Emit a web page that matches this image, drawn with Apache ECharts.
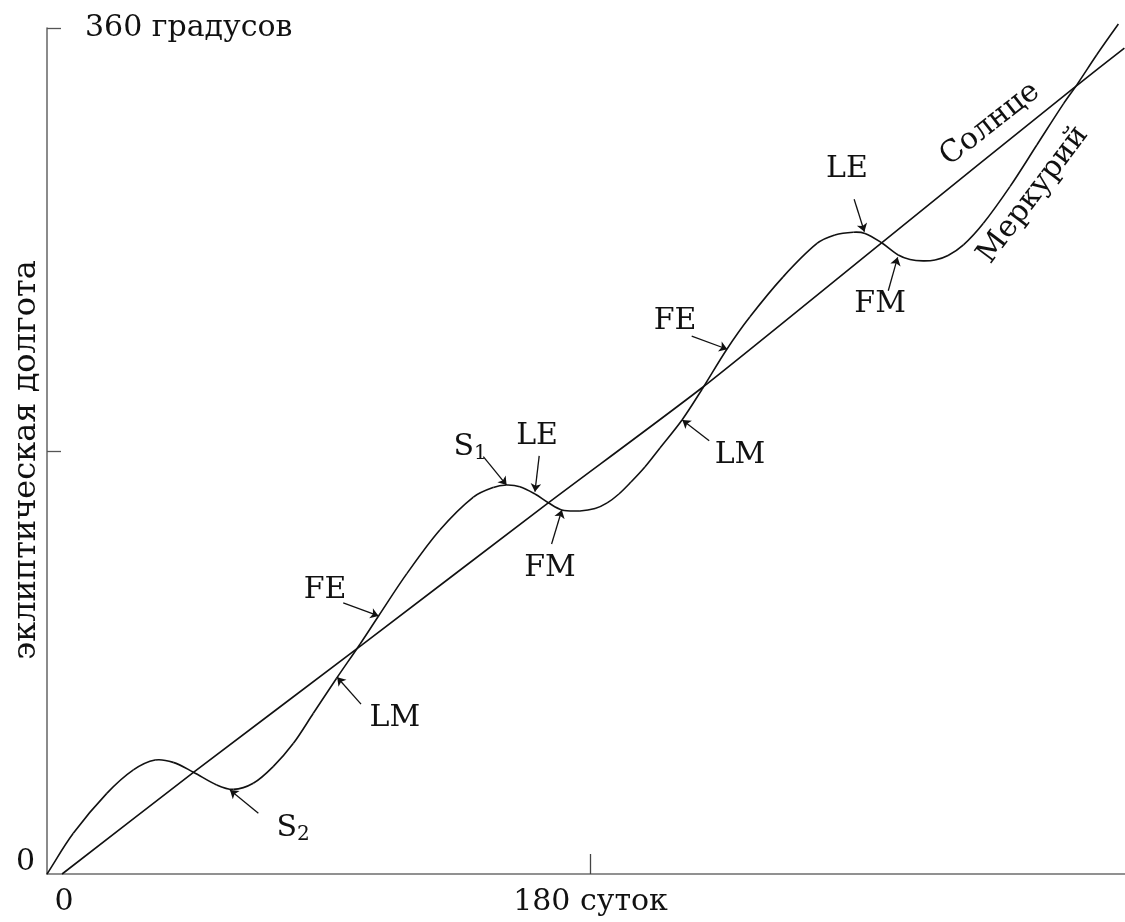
<!DOCTYPE html>
<html>
<head>
<meta charset="utf-8">
<script src="https://cdn.jsdelivr.net/npm/echarts@6/dist/echarts.min.js"></script>
<style>
  html, body { margin: 0; padding: 0; background: #fff; }
  #chart { width: 1125px; height: 922px; }
</style>
</head>
<body>
<div id="chart"></div>
<script>
// x: days, y: ecliptic longitude in degrees
const sunPath = [
  [5, 0], [48.5, 43.2], [104.2, 97.4], [166.0, 157.9], [216.7, 206.7],
  [276.3, 268.5], [340.8, 335.3], [356.8, 351.4]
];
const mercuryPath = [
  [0, 0], [8.7, 17.3], [19.8, 34.3], [28.6, 44.3], [35.8, 48.5], [41.8, 47.5],
  [48.5, 43.3], [56.2, 37.9], [61.7, 36.0], [68.3, 38.6], [74.9, 45.7], [81.6, 55.6],
  [88.2, 68.4], [95.9, 83.3], [103.7, 97.9], [109.8, 109.8], [119.1, 127.7],
  [130.1, 146.4], [141.2, 160.4], [147.8, 164.5], [152.2, 165.5], [156.6, 164.8],
  [161.6, 161.7], [166.0, 158.0], [170.5, 154.9], [176.5, 154.5], [181.5, 155.5],
  [185.5, 157.9], [189.4, 161.7], [193.4, 166.8], [198.0, 173.2], [203.0, 181.3],
  [210.3, 193.2], [217.0, 206.4], [225.2, 223.4], [232.8, 237.1], [243.7, 254.0],
  [255.0, 268.3], [260.9, 271.9], [267.0, 273.1], [270.9, 272.6], [276.4, 268.6],
  [281.9, 263.4], [285.8, 261.5], [290.1, 260.9], [294.1, 261.3], [298.4, 263.2],
  [303.5, 267.7], [310.1, 276.9], [318.9, 292.5], [327.8, 310.2], [336.6, 327.7],
  [341.0, 335.7], [347.6, 348.5], [354.8, 361.7]
];

const xTickValues = [0, 180];
const xTickLabels = ['0', '180 суток'];
const yTickValues = [0, 180, 360];
const yTickLabels = ['0', '', '360 градусов'];
const yAxisTitle = 'эклиптическая долгота';

// Phase markers: label text (with optional subscript), label centre, arrow tail, arrow tip
const markerNames = ['S', 'LM', 'FE', 'S', 'LE', 'FM', 'FE', 'LM', 'LE', 'FM'];
const markerSubs  = ['2', '', '', '1', '', '', '', '', '', ''];
const markerAt = [
  [81.5, 19.6], [115.2, 66.4], [92.1, 120.9], [140.1, 181.7], [162.3, 186.4],
  [166.6, 130.2], [208.0, 235.3], [229.5, 178.3], [264.9, 300.0], [275.9, 242.6]
];
const arrowFrom = [
  [70.0, 25.8], [104.0, 72.3], [98.1, 115.4], [144.5, 177.6], [163.0, 177.9],
  [167.1, 140.4], [213.5, 228.9], [219.3, 184.4], [267.3, 287.1], [278.6, 248.2]
];
const arrowTo = [
  [60.6, 35.7], [96.1, 83.7], [109.8, 109.8], [152.2, 165.5], [161.6, 162.7],
  [170.5, 154.9], [225.3, 223.3], [210.4, 193.2], [270.7, 273.3], [281.7, 262.4]
];

// Curve names written along the lines
const curveNames = ['Солнце', 'Меркурий'];
const curveNameAt = [[312.3, 319.1], [326.6, 289.0]];
const curveNameAngle = [38, 53];

const FONT = 'DejaVu Serif';
const FS = 30;
const INK = '#111';
const AXIS = '#6e6e6e';

const xLabelOf = v => { const i = xTickValues.indexOf(v); return i < 0 ? '' : xTickLabels[i]; };
const yLabelOf = v => { const i = yTickValues.indexOf(v); return i < 0 ? '' : yTickLabels[i]; };

// Smooth curve through pixel points: cubic segments with chord-length tangents
function smoothSegments(pts, style) {
  const n = pts.length;
  const dist = (a, b) => Math.hypot(b[0] - a[0], b[1] - a[1]);
  const tangents = pts.map((p, i) => {
    const a = pts[Math.max(0, i - 1)], b = pts[Math.min(n - 1, i + 1)];
    const len = dist(a, p) + dist(p, b) || 1;
    return [(b[0] - a[0]) / len, (b[1] - a[1]) / len];
  });
  const segs = [];
  for (let i = 0; i < n - 1; i++) {
    const p = pts[i], q = pts[i + 1], h = dist(p, q) / 3;
    segs.push({
      type: 'bezierCurve',
      shape: {
        x1: p[0], y1: p[1], x2: q[0], y2: q[1],
        cpx1: p[0] + tangents[i][0] * h, cpy1: p[1] + tangents[i][1] * h,
        cpx2: q[0] - tangents[i + 1][0] * h, cpy2: q[1] - tangents[i + 1][1] * h
      },
      style: style
    });
  }
  return segs;
}

const chart = echarts.init(document.getElementById('chart'), null, { renderer: 'canvas' });

const annotationData = markerNames.map((n, i) => ({
  value: markerAt[i],
  label: { formatter: markerSubs[i] ? n + '{sub|' + markerSubs[i] + '}' : n }
})).concat(curveNames.map((n, i) => ({
  value: curveNameAt[i],
  label: { formatter: n, rotate: curveNameAngle[i] }
})));

chart.setOption({
  backgroundColor: '#fff',
  animation: false,
  grid: { left: 47, right: 0, top: 28, bottom: 48, containLabel: false, outerBoundsMode: 'none' },
  xAxis: {
    type: 'value', min: 0, max: 357, interval: 180,
    splitLine: { show: false },
    axisLine: { lineStyle: { color: AXIS, width: 1.6 } },
    axisTick: { inside: true, length: 20, customValues: [180], lineStyle: { color: '#444', width: 1.3 } },
    axisLabel: {
      customValues: xTickValues, margin: 13,
      color: INK, fontFamily: FONT, fontSize: FS,
      formatter: v => v === 0 ? '{z|' + xLabelOf(v) + '}' : xLabelOf(v),
      rich: { z: { fontFamily: FONT, fontSize: FS, color: INK, padding: [0, 0, 0, 34] } }
    }
  },
  yAxis: [{
    type: 'value', min: 0, max: 360, interval: 180,
    splitLine: { show: false },
    name: yAxisTitle, nameLocation: 'middle', nameRotate: 90, nameGap: 4,
    nameMoveOverlap: false,
    nameTextStyle: { color: INK, fontFamily: FONT, fontSize: 32, padding: [0, 18, 0, 0] },
    axisLine: { lineStyle: { color: AXIS, width: 1.6 } },
    axisTick: { inside: true, length: 14, customValues: [180, 360], lineStyle: { color: '#555', width: 1.3 } },
    axisLabel: {
      customValues: [0], margin: 12,
      color: INK, fontFamily: FONT, fontSize: FS,
      formatter: v => '{z|' + yLabelOf(v) + '}',
      rich: { z: { fontFamily: FONT, fontSize: FS, color: INK, padding: [0, 0, 24, 0] } }
    }
  }, {
    type: 'value', min: 0, max: 360, interval: 180, position: 'left',
    splitLine: { show: false }, axisLine: { show: false }, axisTick: { show: false },
    axisLabel: {
      inside: true, customValues: [360], margin: 38,
      color: INK, fontFamily: FONT, fontSize: FS,
      formatter: v => yLabelOf(v)
    }
  }],
  series: [
    {
      name: 'Солнце', type: 'line', data: sunPath, smooth: 0.2,
      showSymbol: false, clip: false, silent: true,
      lineStyle: { color: INK, width: 1.6 }
    },
    {
      name: 'Меркурий', type: 'custom', coordinateSystem: 'cartesian2d',
      data: mercuryPath, clip: false, silent: true,
      encode: { x: 0, y: 1 },
      renderItem: (params, api) => {
        if (params.dataIndex !== 0) return null;
        const pts = mercuryPath.map(p => api.coord(p));
        return {
          type: 'group',
          children: smoothSegments(pts, { stroke: INK, lineWidth: 1.6, fill: 'none' })
        };
      }
    },
    {
      type: 'lines', coordinateSystem: 'cartesian2d', silent: true,
      symbol: ['none', 'arrow'], symbolSize: [0, 8],
      lineStyle: { color: INK, width: 1.3, opacity: 1 },
      data: arrowFrom.map((f, i) => ({ coords: [f, arrowTo[i]] }))
    },
    {
      type: 'scatter', silent: true, symbolSize: 1,
      itemStyle: { color: 'transparent', opacity: 1 },
      label: {
        show: true, position: 'inside', color: INK, fontFamily: FONT, fontSize: FS,
        lineHeight: 34,
        rich: { sub: { fontFamily: FONT, fontSize: 20, color: INK, lineHeight: 14, verticalAlign: 'bottom' } }
      },
      data: annotationData
    }
  ]
});
</script>
</body>
</html>
